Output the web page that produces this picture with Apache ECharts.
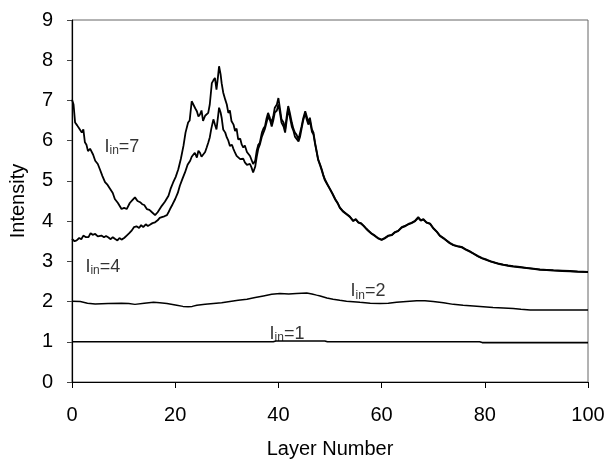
<!DOCTYPE html>
<html>
<head>
<meta charset="utf-8">
<script src="https://cdn.jsdelivr.net/npm/echarts@6/dist/echarts.min.js"></script>
<style>
html,body{margin:0;padding:0;background:#fff;}
#chart{width:608px;height:464px;}
</style>
</head>
<body>
<div id="chart"></div>
<script>
// I_in = 7
var layer7 = [0,0.3,0.6,1.0,1.4,1.9,2.2,2.5,2.8,3.1,3.5,3.8,4.1,4.5,5.0,5.4,5.9,6.4,6.9,7.4,7.9,8.3,8.9,9.6,10.1,10.6,11.2,11.7,12.2,12.7,13.2,13.6,14.0,14.5,15.0,15.5,16.1,16.6,17.0,17.4,18.0,18.7,19.1,19.6,20.1,20.6,21.1,21.6,22.0,22.5,22.8,23.2,23.5,23.9,24.2,24.5,24.8,25.1,25.4,25.8,26.1,26.4,26.7,27.1,27.4,27.7,28.0,28.3,28.5,28.8,29.0,29.3,29.7,30.0,30.3,30.6,30.9,31.3,31.6,31.9,32.2,32.6,32.9,33.2,33.5,33.9,34.2,34.5,34.8,35.1,35.5,35.8,36.1,36.4,36.8,37.1,37.4,37.7,38.0,38.4,38.7,39.0,39.3,39.7,40.0,40.3,40.6,41.0,41.3,41.6,41.9,42.2,42.6,42.9,43.2,43.5,43.9,44.2,44.5,44.8,45.2,45.5,45.8,46.1,46.5,46.8,47.1,47.4,47.7,48.1,48.4,48.7,49.0,49.5,50.0,50.5,51.0,51.5,51.9,52.5,53.2,53.8,54.1,54.5,55.0,55.5,56.0,56.5,57.0,57.4,58.0,58.7,59.3,60.0,60.6,61.3,62.0,62.6,63.2,63.9,64.5,65.2,65.8,66.5,67.1,67.6,68.1,68.7,69.4,70.0,70.7,71.3,72.0,72.6,73.2,73.9,74.7,75.5,76.3,77.1,77.9,78.7,79.5,80.4,81.2,82.0,82.8,83.6,84.5,85.5,86.8,88.1,89.4,90.7,92.0,93.3,95.0,96.5,98.0,100];
var intensity7 = [7.02,6.9,6.45,6.38,6.3,6.2,6.28,5.96,5.9,5.74,5.8,5.83,5.65,5.5,5.42,5.29,5.12,4.97,4.9,4.8,4.7,4.55,4.45,4.3,4.33,4.3,4.45,4.52,4.59,4.5,4.47,4.42,4.4,4.3,4.28,4.22,4.15,4.22,4.3,4.38,4.48,4.63,4.8,4.96,5.1,5.29,5.55,5.87,6.2,6.45,6.5,6.98,7.02,6.8,6.73,6.6,6.65,6.75,6.49,6.62,6.61,6.69,6.9,7.43,7.5,7.56,7.27,7.6,7.85,7.65,7.43,7.2,7.02,6.9,6.69,6.75,6.49,6.4,6.24,6.3,6.03,6.05,5.9,5.83,5.88,5.72,5.7,5.62,5.58,5.42,5.5,5.75,5.9,5.95,6.2,6.3,6.36,6.55,6.69,6.55,6.45,6.6,6.82,6.9,7.06,6.8,6.53,6.45,6.28,6.6,6.86,6.7,6.45,6.3,6.2,6.15,6.03,6.2,6.36,6.55,6.73,6.6,6.45,6.57,6.28,6.2,5.95,5.75,5.54,5.4,5.29,5.15,5.04,4.92,4.8,4.68,4.55,4.45,4.34,4.25,4.18,4.12,4.16,4.01,4.05,3.97,3.95,3.89,3.82,3.77,3.7,3.64,3.58,3.54,3.58,3.64,3.66,3.73,3.76,3.85,3.88,3.93,3.96,4.01,4.1,4.02,4.05,3.97,3.94,3.83,3.74,3.64,3.58,3.52,3.46,3.41,3.38,3.36,3.3,3.25,3.19,3.13,3.08,3.04,3.0,2.97,2.94,2.92,2.9,2.88,2.86,2.84,2.82,2.8,2.79,2.78,2.77,2.76,2.75,2.74];

// I_in = 4
var layer4 = [0,0.5,0.9,1.4,1.8,2.2,2.7,3.2,3.6,4.0,4.5,5.0,5.3,5.7,6.2,6.6,7.0,7.5,7.9,8.3,8.8,9.2,9.6,10.1,10.6,11.1,11.6,12.0,12.5,13.0,13.4,13.8,14.3,14.7,15.1,15.6,16.1,16.6,17.0,17.4,17.9,18.4,18.7,19.0,19.5,20.0,20.5,20.9,21.4,21.9,22.4,22.9,23.2,23.5,23.8,24.2,24.5,24.8,25.1,25.4,25.8,26.1,26.4,26.7,27.0,27.4,27.7,28.0,28.3,28.5,28.8,29.0,29.3,29.7,30.0,30.3,30.6,31.0,31.3,31.6,31.9,32.2,32.6,32.9,33.2,33.5,33.9,34.2,34.5,34.8,35.1,35.5,35.8,36.1,36.4,36.8,37.1,37.4,37.7,38.0,38.4,38.7,39.0,39.3,39.7,40.0,40.3,40.6,41.0,41.3,41.6,41.9,42.2,42.6,42.9,43.2,43.5,43.9,44.2,44.5,44.8,45.2,45.5,45.8,46.1,46.5,46.8,47.1,47.4,47.7,48.1,48.4,48.7,49.0,49.5,50.0,50.5,51.0,51.5,51.9,52.5,53.2,53.8,54.1,54.5,55.0,55.5,56.0,56.5,57.0,57.4,58.0,58.7,59.3,60.0,60.6,61.3,62.0,62.6,63.2,63.9,64.5,65.2,65.8,66.5,67.1,67.6,68.1,68.7,69.4,70.0,70.7,71.3,72.0,72.6,73.2,73.9,74.7,75.5,76.3,77.1,77.9,78.7,79.5,80.4,81.2,82.0,82.8,83.6,84.5,85.5,86.8,88.1,89.4,90.7,92.0,93.3,95.0,96.5,98.0,100];
var intensity4 = [3.56,3.5,3.52,3.58,3.55,3.64,3.6,3.6,3.7,3.66,3.68,3.62,3.66,3.64,3.6,3.63,3.6,3.55,3.6,3.56,3.52,3.58,3.54,3.58,3.64,3.7,3.77,3.85,3.87,3.83,3.9,3.85,3.92,3.88,3.91,3.95,3.97,4.02,4.08,4.1,4.12,4.15,4.22,4.3,4.42,4.55,4.7,4.88,5.05,5.21,5.4,5.5,5.6,5.62,5.7,5.58,5.75,5.7,5.6,5.62,5.72,5.83,5.95,6.08,6.3,6.53,6.4,6.28,6.6,6.82,6.7,6.57,6.28,6.2,6.08,6.0,5.87,5.9,5.79,5.7,5.62,5.65,5.54,5.5,5.55,5.46,5.4,5.37,5.42,5.33,5.21,5.35,5.6,5.8,5.9,6.1,6.2,6.3,6.45,6.6,6.5,6.35,6.5,6.7,6.75,6.9,6.7,6.45,6.35,6.2,6.5,6.8,6.6,6.35,6.25,6.1,6.08,5.98,6.1,6.3,6.5,6.68,6.52,6.4,6.5,6.22,6.15,5.92,5.72,5.52,5.38,5.26,5.13,5.02,4.9,4.79,4.67,4.54,4.44,4.33,4.24,4.17,4.11,4.14,4.0,4.04,3.96,3.94,3.88,3.81,3.76,3.69,3.63,3.57,3.53,3.57,3.63,3.65,3.72,3.75,3.84,3.87,3.92,3.95,4.0,4.08,4.01,4.04,3.96,3.93,3.82,3.73,3.63,3.57,3.51,3.45,3.4,3.37,3.35,3.29,3.24,3.18,3.12,3.07,3.03,2.99,2.96,2.93,2.91,2.89,2.87,2.85,2.83,2.81,2.79,2.78,2.77,2.76,2.75,2.74,2.73];

// I_in = 2
var layer2 = [0,1.6,3.0,4.5,7.0,9.6,11.0,12.2,14.0,15.8,17.0,18.4,20.3,21.5,22.5,23.3,24.2,25.8,27.4,29.0,30.6,32.2,33.9,35.5,37.1,38.7,40.3,42.0,43.5,45.5,46.5,47.4,48.1,49.4,50.6,51.9,53.2,55.8,57.8,59.7,61.3,62.9,64.8,66.8,68.4,70.0,72.0,73.9,75.8,77.8,79.7,81.6,83.6,85.5,87.0,88.8,92.0,96.0,100];
var intensity2 = [2.01,2.0,1.96,1.94,1.95,1.96,1.95,1.93,1.96,1.98,1.97,1.95,1.91,1.88,1.87,1.88,1.91,1.93,1.95,1.97,2.0,2.03,2.06,2.1,2.14,2.18,2.2,2.19,2.2,2.21,2.19,2.16,2.14,2.09,2.06,2.03,2.01,1.98,1.96,1.95,1.96,1.98,2.0,2.02,2.02,2.0,1.97,1.93,1.91,1.89,1.87,1.85,1.84,1.83,1.81,1.79,1.79,1.79,1.79];

// I_in = 1
var layer1 = [0,39,39.5,49,49.5,79,79.5,100];
var intensity1 = [1.0,1.0,1.02,1.02,1.0,1.0,0.98,0.98];

// tick labels
var xTicks = [0,20,40,60,80,100];
var yTicks = [0,1,2,3,4,5,6,7,8,9];

// curve labels: [x, y, suffix]
var curveLabels = [[6.2,5.84,'7'],[2.5,2.87,'4'],[53.9,2.25,'2'],[38.2,1.19,'1']];

function pairs(xs, ys){ return xs.map(function(x,i){ return [x, ys[i]]; }); }

var font = 'Liberation Sans, Arial, sans-serif';
var chart = echarts.init(document.getElementById('chart'), null, {renderer:'canvas'});

function lineSeries(xs, ys, w){
  return {type:'line', data:pairs(xs,ys), showSymbol:false, symbol:'none', smooth:false,
    lineStyle:{color:'#000', width:w}, silent:true, animation:false};
}

var series = [
  lineSeries(layer7, intensity7, 1.8),
  lineSeries(layer4, intensity4, 1.8),
  lineSeries(layer2, intensity2, 1.5),
  lineSeries(layer1, intensity1, 1.6),
  {type:'scatter', symbolSize:1, itemStyle:{color:'rgba(0,0,0,0)'}, silent:true, animation:false,
   data: curveLabels.map(function(c){ return {value:[c[0],c[1]], sub:c[2]}; }),
   label:{show:true, position:'right', distance:0,
     formatter:function(p){ return '{m|I}{s|in}{m|=' + p.data.sub + '}'; },
     rich:{
       m:{fontFamily:font, fontSize:18, color:'#000', lineHeight:20},
       s:{fontFamily:font, fontSize:12, color:'#000', verticalAlign:'bottom', lineHeight:20, padding:[6,0,0,0]}
     }}
  }
];

chart.setOption({
  animation:false,
  backgroundColor:'#fff',
  grid:{left:72, right:20, top:20, bottom:80, show:true, borderColor:'#666', borderWidth:1, backgroundColor:'transparent'},
  xAxis:{type:'value', min:0, max:100, interval:20,
    name:'Layer Number', nameLocation:'middle', nameGap:57,
    nameTextStyle:{fontFamily:font, fontSize:20, color:'#000'},
    axisLine:{show:true, lineStyle:{color:'#000', width:1.2}},
    axisTick:{show:true, inside:false, length:6, lineStyle:{color:'#000'}},
    axisLabel:{fontFamily:font, fontSize:20, color:'#000', margin:23,
      formatter:function(v){ return xTicks.indexOf(v) >= 0 ? String(v) : ''; }},
    splitLine:{show:false}},
  yAxis:{type:'value', min:0, max:9, interval:1,
    name:'Intensity', nameLocation:'middle', nameGap:44, nameRotate:90,
    nameTextStyle:{fontFamily:font, fontSize:20, color:'#000'},
    axisLine:{show:true, lineStyle:{color:'#000', width:1.2}},
    axisTick:{show:true, inside:false, length:5, lineStyle:{color:'#444'}},
    axisLabel:{fontFamily:font, fontSize:20, color:'#000', margin:19,
      formatter:function(v){ return yTicks.indexOf(v) >= 0 ? String(v) : ''; }},
    splitLine:{show:false}},
  series: series
});
</script>
</body>
</html>
